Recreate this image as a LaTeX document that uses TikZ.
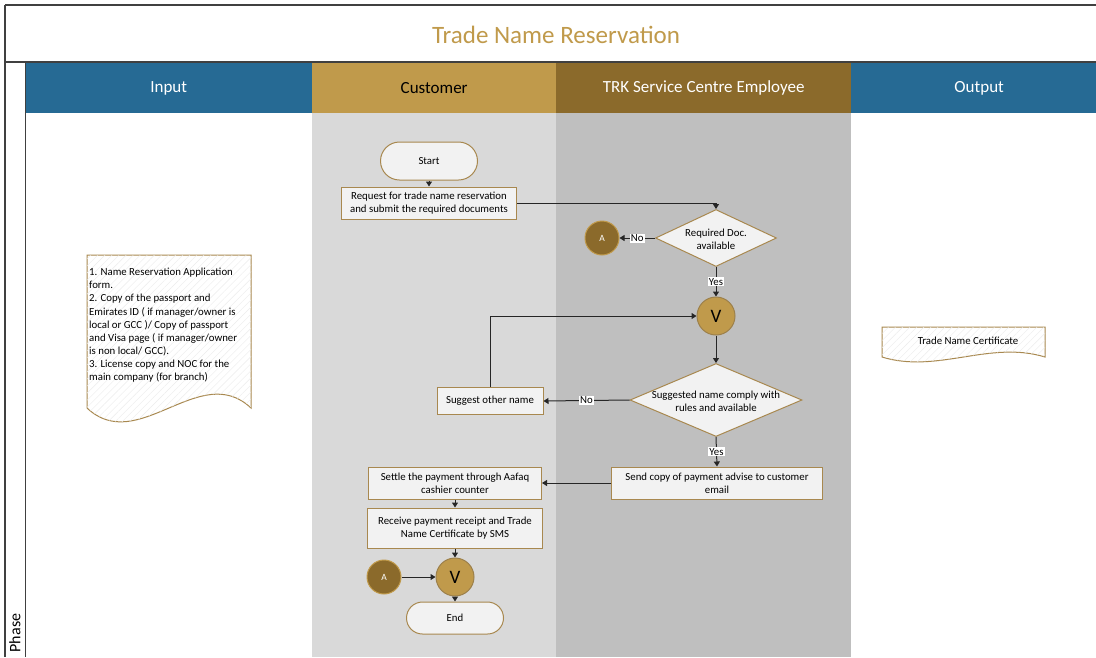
\documentclass[tikz,border=0pt]{standalone}
\usepackage{fontspec}
\setmainfont{Carlito}
\usetikzlibrary{shapes.geometric,arrows.meta,patterns.meta}
\definecolor{hblue}{HTML}{266A94}
\definecolor{hgold}{HTML}{C09A4B}
\definecolor{hbrown}{HTML}{8B6A2B}
\definecolor{bord}{HTML}{A8884F}
\definecolor{boxfill}{HTML}{F2F2F2}
\definecolor{laneone}{HTML}{D9D9D9}
\definecolor{lanetwo}{HTML}{BFBFBF}
\definecolor{framec}{HTML}{404040}
\begin{document}
\begin{tikzpicture}[x=1pt,y=-1pt,
  every node/.style={font=\fontsize{10.8}{13}\selectfont},
  box/.style={draw=bord,fill=boxfill,line width=1pt,align=center,inner sep=2pt},
  term/.style={draw=bord,fill=boxfill,line width=1pt,rounded corners=19pt,align=center},
  dia/.style={diamond,draw=bord,fill=boxfill,line width=1pt,inner sep=0pt},
  conA/.style={circle,fill=hbrown,draw=hgold,line width=1pt,minimum size=34pt,inner sep=0pt,text=white,font=\fontsize{9.5}{10}\selectfont},
  conV/.style={circle,fill=hgold,draw=hbrown!85,line width=1pt,minimum size=38pt,inner sep=0pt,font=\fontsize{19}{20}\selectfont},
  arr/.style={draw=black!85,line width=1pt,-{Triangle[length=5pt,width=6pt]}},
  lbl/.style={fill=white,inner sep=1pt,font=\fontsize{10.8}{11}\selectfont},
  doc/.style={draw=bord,line width=1pt,fill=white,postaction={pattern={Lines[angle=45,distance=5pt,line width=0.4pt]},pattern color=gray!15}},
  hdr/.style={minimum width=#1,minimum height=50pt,inner sep=0pt,anchor=north west,font=\fontsize{17}{20}\selectfont}
]
\useasboundingbox (0,0) rectangle (1096,657);
\fill[white] (0,0) rectangle (1096,657);
% lanes
\fill[laneone] (312,113) rectangle (556,657);
\fill[lanetwo] (556,113) rectangle (851,657);
% headers
\node[hdr=287pt,fill=hblue,text=white] (hin) at (25,63) {Input};
\node[hdr=244pt,fill=hgold,text=black] (hcu) at (312,63) {Customer};
\node[hdr=295pt,fill=hbrown,text=white] (htrk) at (556,63) {TRK Service Centre Employee};
\node[hdr=256pt,fill=hblue,text=white] (hout) at (851,63) {Output};
% frame
\draw[framec,line width=1.2pt] (5,5) -- (1096,5);
\draw[framec,line width=1.2pt] (5,5) -- (5,657);
\draw[framec,line width=1.2pt] (5,62) -- (1096,62);
\draw[framec,line width=1pt] (25,62) -- (25,657);
\node[text=hgold,font=\fontsize{25}{28}\selectfont] (title) at (556,35) {Trade Name Reservation};
\node[rotate=90,font=\fontsize{16}{18}\selectfont] (phase) at (15,633) {Phase};
% documents
\draw[doc] (87,255) -- (251,255) -- (251,408) .. controls (200,360) and (138,456) .. (87,408) -- cycle;
\node[align=left,anchor=north west,inner sep=0pt,font=\fontsize{10.8}{13.1}\selectfont] (intxt) at (89,268)
 {1. Name Reservation Application\\form.\\2. Copy of the passport and\\Emirates ID ( if manager/owner is\\local or GCC )/ Copy of passport\\and Visa page ( if manager/owner\\is non local/ GCC).\\3. License copy and NOC for the\\main company (for branch)};
\draw[doc] (882,327) -- (1045,327) -- (1045,357) .. controls (990,340) and (937,374) .. (882,357) -- cycle;
\node (outtxt) at (968,341) {Trade Name Certificate};
% flow nodes
\node[term,minimum width=97pt,minimum height=38pt] (start) at (429,161) {Start};
\node[box,minimum width=175pt,minimum height=32pt] (req) at (429,203) {Request for trade name reservation\\and submit the required documents};
\node[dia,minimum width=121pt,minimum height=57pt] (d1) at (716,238) {};
\node[align=center] (d1t) at (716,239) {Required Doc.\\available};
\node[conA] (a1) at (602,238) {A};
\node[conV] (v1) at (716,316) {V};
\node[dia,minimum width=172pt,minimum height=73pt] (d2) at (716,400) {};
\node[align=center] (d2t) at (716,401) {Suggested name comply with\\rules and available};
\node[box,minimum width=106pt,minimum height=27pt] (sug) at (490,401) {Suggest other name};
\node[box,minimum width=211pt,minimum height=32pt] (send) at (717,483) {Send copy of payment advise to customer\\email};
\node[box,minimum width=173pt,minimum height=32pt] (settle) at (455,483) {Settle the payment through Aafaq\\cashier counter};
\node[box,minimum width=175pt,minimum height=40pt] (recv) at (455,528) {Receive payment receipt and Trade\\Name Certificate by SMS};
\node[conV] (v2) at (455,577) {V};
\node[conA] (a2) at (384,577) {A};
\node[term,minimum width=97pt,minimum height=32pt,rounded corners=16pt] (end) at (455,618) {End};
% connectors
\draw[arr] (start.south) -- (req.north);
\draw[arr] (req.east) -| (d1.north);
\draw[arr] (d1.west) -- node[lbl] (l1) {No} (a1.east);
\draw[arr] (d1.south) -- node[lbl] (l2) {Yes} (v1.north);
\draw[arr] (v1.south) -- (d2.north);
\draw[arr] (d2.west) -- node[lbl] (l3) {No} (sug.east);
\draw[arr] (sug.north) |- (v1.west);
\draw[arr] (d2.south) -- node[lbl] (l4) {Yes} (send.north);
\draw[arr] (send.west) -- (settle.east);
\draw[arr] (settle.south) -- (recv.north);
\draw[arr] (recv.south) -- (v2.north);
\draw[arr] (a2.east) -- (v2.west);
\draw[arr] (v2.south) -- (end.north);
\end{tikzpicture}
\end{document}
